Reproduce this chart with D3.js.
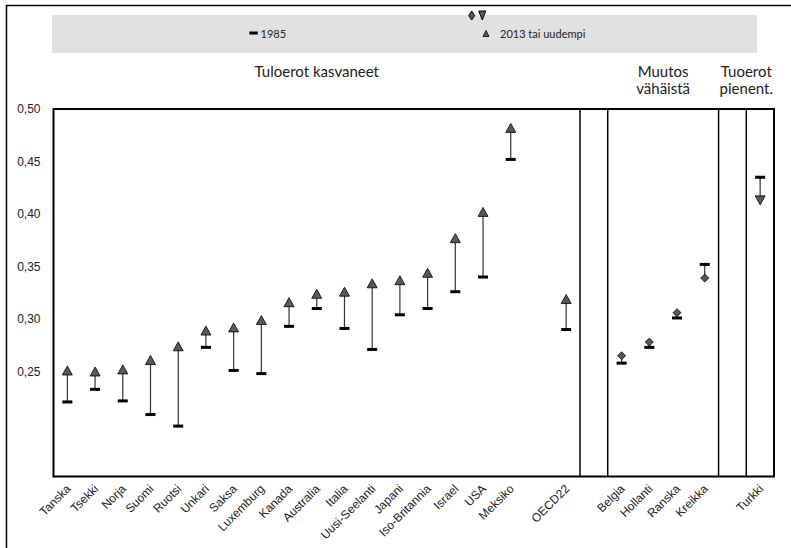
<!DOCTYPE html>
<html><head><meta charset="utf-8">
<script src="https://cdnjs.cloudflare.com/ajax/libs/d3/7.8.5/d3.min.js"></script>
<style>body{margin:0;background:#fff}svg{display:block}</style>
</head><body>
<svg id="c" width="791" height="548"></svg>
<script>
// ---- data ----
const categories = ["Tanska","Tsekki","Norja","Suomi","Ruotsi","Unkari","Saksa","Luxemburg","Kanada","Australia","Italia","Uusi-Seelanti","Japani","Iso-Britannia","Israel","USA","Meksiko","","OECD22","","Belgia","Hollanti","Ranska","Kreikka","","Turkki"];
const values1985   = [0.221,0.233,0.222,0.209,0.198,0.273,0.251,0.248,0.293,0.310,0.291,0.271,0.304,0.310,0.326,0.340,0.452,null,0.290,null,0.258,0.273,0.301,0.352,null,0.435];
const valuesLatest = [0.251,0.250,0.252,0.261,0.274,0.289,0.292,0.299,0.316,0.324,0.326,0.334,0.337,0.344,0.377,0.402,0.482,null,0.319,null,0.265,0.278,0.306,0.339,null,0.413];
const markerTypes  = ["up","up","up","up","up","up","up","up","up","up","up","up","up","up","up","up","up",null,"up",null,"diamond","diamond","diamond","diamond",null,"down"];
const yTicks = [0.25,0.30,0.35,0.40,0.45,0.50];
const groupLabels = [["Tuloerot kasvaneet"],["Muutos","vähäistä"],["Tuoerot","pienent."]];
const groupFrom = [0,20,24];
const groupTo   = [18,23,25];
const separatorsAfter = [18,19,23,24];
const legendLabels = ["1985","2013 tai uudempi"];

// ---- drawing ----
const svg = d3.select("#c");
const x = d3.scaleBand().domain(d3.range(categories.length)).range([53.5,774]).paddingInner(0).paddingOuter(0);
const y = d3.scaleLinear().domain([0.15,0.50]).range([476.5,109]);
const cx = i => x(i) + x.bandwidth()/2;
const fmt = d3.format(".2f");
const sansFont = "'Liberation Sans', Arial, sans-serif";
const titleFont = "Lato, 'Open Sans', sans-serif";

// outer frame
svg.append("path").attr("d","M6.5,560V5.5H800").attr("fill","none").attr("stroke","#000").attr("stroke-width",1.5);

// legend box
svg.append("rect").attr("x",52).attr("y",15).attr("width",705).attr("height",38).attr("fill","#e1e1e1");

function markerPath(t, w, h){
  if(t==="up") return `M0,${-h/2}L${w/2},${h/2}L${-w/2},${h/2}Z`;
  if(t==="down") return `M0,${h/2}L${w/2},${-h/2}L${-w/2},${-h/2}Z`;
  return `M0,${-h/2}L${w/2},0L0,${h/2}L${-w/2},0Z`;
}
const lg = svg.append("g");
lg.append("rect").attr("x",249.3).attr("y",31.5).attr("width",8.5).attr("height",3).attr("fill","#000");
lg.append("text").attr("x",260.5).attr("y",37.5).text(legendLabels[0])
  .style("font-family",titleFont).style("font-size","11px").attr("fill","#222");
lg.append("path").attr("transform","translate(471.7,15.5)").attr("d",markerPath("diamond",6,9)).attr("fill","#595959").attr("stroke","#000").attr("stroke-width",1);
lg.append("path").attr("transform","translate(482.3,15.5)").attr("d",markerPath("down",7,9)).attr("fill","#595959").attr("stroke","#000").attr("stroke-width",1);
lg.append("path").attr("transform","translate(486,33.5)").attr("d",markerPath("up",6,6)).attr("fill","#595959").attr("stroke","#000").attr("stroke-width",0.8);
lg.append("text").attr("x",500).attr("y",38).text(legendLabels[1])
  .style("font-family",titleFont).style("font-size","11px").attr("fill","#222");

// group titles
groupLabels.forEach((lines,k)=>{
  const mid = (x(groupFrom[k]) + x(groupTo[k]) + x.bandwidth())/2;
  const t = svg.append("text").attr("x",mid).attr("text-anchor","middle")
    .style("font-family",titleFont).style("font-size","15px").attr("fill","#222");
  lines.forEach((ln,j)=> t.append("tspan").attr("x",mid).attr("y",77+j*17).text(ln));
});

// y axis labels (no line, no ticks)
const yAxis = d3.axisLeft(y).tickValues(yTicks).tickFormat(d=>fmt(d).replace(".",",")).tickSize(0).tickPadding(13);
const ya = svg.append("g").attr("transform","translate(53.5,0)").call(yAxis);
ya.select(".domain").remove();
ya.selectAll("text").style("font-family",sansFont).style("font-size","12px").attr("fill","#222");

// x axis labels
const xAxis = d3.axisBottom(x).tickFormat(i=>categories[i]).tickSize(0).tickPadding(0);
const xa = svg.append("g").attr("transform","translate(0,476.5)").call(xAxis);
xa.select(".domain").remove();
xa.selectAll("text").style("font-family",sansFont).style("font-size","12px").attr("fill","#222")
  .attr("text-anchor","end").attr("dy",0).attr("y",0)
  .attr("transform","translate(4,13) rotate(-45)");

// separators
separatorsAfter.forEach(i=>{
  const sx = x(i)+x.bandwidth();
  svg.append("line").attr("x1",sx).attr("x2",sx).attr("y1",y(0.50)).attr("y2",y(0.15)).attr("stroke","#000").attr("stroke-width",1.5);
});
// plot border
svg.append("rect").attr("x",53.5).attr("y",y(0.50)).attr("width",774-53.5).attr("height",y(0.15)-y(0.50))
  .attr("fill","none").attr("stroke","#000").attr("stroke-width",2);

// data marks
const idx = d3.range(categories.length).filter(i=>values1985[i]!=null);
const g = svg.append("g");
g.selectAll("line.hl").data(idx).join("line").attr("class","hl")
  .attr("x1",cx).attr("x2",cx).attr("y1",i=>y(values1985[i])).attr("y2",i=>y(valuesLatest[i]))
  .attr("stroke","#333").attr("stroke-width",1.2);
g.selectAll("rect.b").data(idx).join("rect").attr("class","b")
  .attr("x",i=>cx(i)-5).attr("y",i=>y(values1985[i])-1.5).attr("width",10).attr("height",3).attr("fill","#000");
g.selectAll("path.m").data(idx).join("path").attr("class","m")
  .attr("transform",i=>`translate(${cx(i)},${y(valuesLatest[i])})`)
  .attr("d",i=>markerTypes[i]==="diamond"?markerPath("diamond",8,8):markerPath(markerTypes[i],10,9))
  .attr("fill","#595959").attr("stroke","#000").attr("stroke-width",0.8);
</script>
</body></html>
